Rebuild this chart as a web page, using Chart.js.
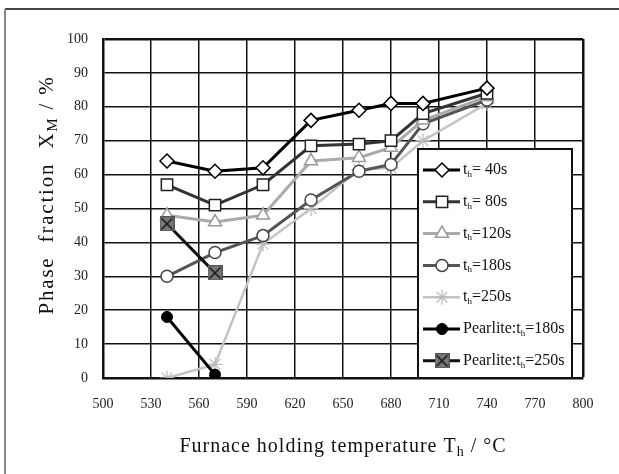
<!DOCTYPE html>
<html>
<head>
<meta charset="utf-8">
<script src="https://cdn.jsdelivr.net/npm/chart.js@4.4.0/dist/chart.umd.min.js"></script>
<style>
  body { margin: 0; background: #fff; }
  #wrap { width: 619px; height: 474px; position: relative; }
</style>
</head>
<body>
<div id="wrap"><canvas id="grafico" width="619" height="474"></canvas></div>
<script>
// temperatures (°C) and phase fractions (%)
const temps = [540, 570, 600, 630, 660, 680, 700, 740];
const t40 = [64, 61, 62, 76, 79, 81, 81, 85.5];
const t80 = [57, 51, 57, 68.5, 69, 70, 78, 84];
const t120 = [48, 46, 48, 64, 65, 68, 76, 83];
const t180 = [30, 37, 42, 52.5, 61, 63, 75, 82];
const t250 = [0, 4, 39.5, 50, 61.5, 62, 70, 81];
const pearliteTemps = [540, 570];
const pearlite180 = [18, 1];
const pearlite250 = [45.5, 31];

const xTicks = [500, 530, 560, 590, 620, 650, 680, 710, 740, 770, 800];
const yTicks = [0, 10, 20, 30, 40, 50, 60, 70, 80, 90, 100];

const legendNames = [
    ['= 40s', ''], ['= 80s', ''], ['=120s', ''], ['=180s', ''], ['=250s', ''],
    ['=180s', 'Pearlite:'], ['=250s', 'Pearlite:']
];

function pts(xs, ys) {
    return xs.map((x, i) => ({ x: x, y: ys[i] }));
}

// grey square with a cross for pearlite 250s
let xMark = document.createElement('canvas');
xMark.width = 15; xMark.height = 15;
let mc = xMark.getContext('2d');
mc.fillStyle = '#7a7a7a';
mc.fillRect(0, 0, 15, 15);
mc.strokeStyle = '#555';
mc.lineWidth = 1;
mc.strokeRect(0.5, 0.5, 14, 14);
mc.strokeStyle = '#111';
mc.lineWidth = 1.5;
mc.beginPath();
mc.moveTo(2, 2); mc.lineTo(13, 13);
mc.moveTo(13, 2); mc.lineTo(2, 13);
mc.stroke();

const serif = 'Liberation Serif';

function partsWidth(ctx, parts, size, subSize) {
    let w = 0;
    parts.forEach(p => {
        ctx.font = (p.sub ? subSize : size) + 'px "' + serif + '"';
        w += ctx.measureText(p.t).width;
    });
    return w;
}

function writeParts(ctx, parts, x, y, size, subSize, center) {
    let total = partsWidth(ctx, parts, size, subSize);
    let cx = center ? x - total / 2 : x;
    parts.forEach(p => {
        ctx.font = (p.sub ? subSize : size) + 'px "' + serif + '"';
        ctx.fillText(p.t, cx, p.sub ? y + size * 0.28 : y);
        cx += ctx.measureText(p.t).width;
    });
}

const extras = {
    id: 'extras',
    beforeDraw(chart) {
        let ctx = chart.ctx;
        ctx.save();
        ctx.fillStyle = '#fff';
        ctx.fillRect(0, 0, chart.width, chart.height);
        ctx.lineWidth = 2;
        ctx.strokeStyle = '#444';
        ctx.beginPath();
        ctx.moveTo(5, 9); ctx.lineTo(chart.width, 9);
        ctx.stroke();
        ctx.strokeStyle = '#888';
        ctx.beginPath();
        ctx.moveTo(5, 9); ctx.lineTo(5, chart.height);
        ctx.stroke();
        ctx.restore();
    },
    afterDraw(chart) {
        let ctx = chart.ctx;
        let area = chart.chartArea;
        ctx.save();
        ctx.fillStyle = '#111';
        ctx.textBaseline = 'middle';
        ctx.textAlign = 'left';
        if ('letterSpacing' in ctx) ctx.letterSpacing = '1px';

        // x title
        writeParts(ctx, [
            { t: 'Furnace holding temperature T' },
            { t: 'h', sub: true },
            { t: ' / °C' }
        ], (area.left + area.right) / 2, 447, 20, 14, true);

        // y title
        if ('letterSpacing' in ctx) ctx.letterSpacing = '1.8px';
        ctx.translate(47, 195);
        ctx.rotate(-Math.PI / 2);
        writeParts(ctx, [
            { t: 'Phase  fraction  X' },
            { t: 'M', sub: true },
            { t: ' / %' }
        ], 0, 0, 21, 15, true);
        ctx.restore();

        // legend box
        ctx.save();
        let bx = 418, by = 149, bw = 154, bh = area.bottom - 149;
        ctx.fillStyle = '#fff';
        ctx.fillRect(bx, by, bw, bh);
        ctx.strokeStyle = '#111';
        ctx.lineWidth = 2;
        ctx.strokeRect(bx, by, bw, bh);
        ctx.textBaseline = 'middle';
        chart.data.datasets.forEach((ds, i) => {
            let y = 170 + i * 31.8;
            ctx.strokeStyle = ds.borderColor;
            ctx.lineWidth = ds.borderWidth;
            ctx.beginPath();
            ctx.moveTo(423, y); ctx.lineTo(460, y);
            ctx.stroke();
            ctx.fillStyle = ds.pointBackgroundColor;
            ctx.strokeStyle = ds.pointBorderColor;
            ctx.lineWidth = ds.pointBorderWidth;
            Chart.helpers.drawPoint(ctx, {
                pointStyle: ds.pointStyle,
                radius: ds.pointRadius,
                rotation: 0,
                borderWidth: ds.pointBorderWidth
            }, 442, y);
            ctx.fillStyle = '#111';
            let name = legendNames[i];
            writeParts(ctx, [
                { t: name[1] + 't' },
                { t: 'h', sub: true },
                { t: name[0] }
            ], 463, y, 16, 9, false);
        });
        ctx.restore();
    }
};

let grafico = document.getElementById('grafico').getContext('2d');

let chart = new Chart(grafico, {
    type: 'line',
    data: {
        datasets: [{
                data: pts(temps, t40),
                borderColor: '#000',
                borderWidth: 3,
                pointStyle: 'rectRot',
                pointRadius: 7,
                pointBackgroundColor: '#fff',
                pointBorderColor: '#000',
                pointBorderWidth: 1.5,
                order: 2
            },
            {
                data: pts(temps, t80),
                borderColor: '#333',
                borderWidth: 3,
                pointStyle: 'rect',
                pointRadius: 8,
                pointBackgroundColor: '#fff',
                pointBorderColor: '#222',
                pointBorderWidth: 1.5,
                order: 3
            },
            {
                data: pts(temps, t120),
                borderColor: '#aaa',
                borderWidth: 3,
                pointStyle: 'triangle',
                pointRadius: 7.5,
                pointBackgroundColor: '#fff',
                pointBorderColor: '#999',
                pointBorderWidth: 1.5,
                order: 4
            },
            {
                data: pts(temps, t180),
                borderColor: '#555',
                borderWidth: 3,
                pointStyle: 'circle',
                pointRadius: 6,
                pointBackgroundColor: '#fff',
                pointBorderColor: '#444',
                pointBorderWidth: 1.5,
                order: 5
            },
            {
                data: pts(temps, t250),
                borderColor: '#c4c4c4',
                borderWidth: 2.5,
                pointStyle: 'star',
                pointRadius: 7.5,
                pointBackgroundColor: '#fff',
                pointBorderColor: '#bbb',
                pointBorderWidth: 1.2,
                order: 6
            },
            {
                data: pts(pearliteTemps, pearlite180),
                borderColor: '#000',
                borderWidth: 3,
                pointStyle: 'circle',
                pointRadius: 5.5,
                pointBackgroundColor: '#000',
                pointBorderColor: '#000',
                pointBorderWidth: 1,
                order: 0
            },
            {
                data: pts(pearliteTemps, pearlite250),
                borderColor: '#111',
                borderWidth: 3,
                pointStyle: xMark,
                pointRadius: 7.5,
                pointBackgroundColor: '#777',
                pointBorderColor: '#333',
                pointBorderWidth: 1,
                order: 1
            }
        ]
    },
    options: {
        responsive: false,
        animation: false,
        layout: { padding: { top: 39, right: 36, left: 0, bottom: 0 } },
        plugins: {
            legend: { display: false },
            tooltip: { enabled: false }
        },
        scales: {
            x: {
                type: 'linear',
                min: 500,
                max: 800,
                afterBuildTicks: s => { s.ticks = xTicks.map(v => ({ value: v })); },
                afterFit: s => { s.height = 96; },
                ticks: {
                    color: '#222',
                    padding: 18,
                    maxRotation: 0,
                    font: { family: serif, size: 14 }
                },
                grid: {
                    color: '#111',
                    lineWidth: c => (c.tick && c.tick.value === 800 ? 2.5 : 1.5),
                    drawTicks: false
                },
                border: { color: '#111', width: 2.5 }
            },
            y: {
                min: 0,
                max: 100,
                afterBuildTicks: s => { s.ticks = yTicks.map(v => ({ value: v })); },
                afterFit: s => { s.width = 103; },
                ticks: {
                    color: '#222',
                    padding: 15,
                    font: { family: serif, size: 14 }
                },
                grid: {
                    color: '#111',
                    lineWidth: c => (c.tick && c.tick.value === 100 ? 2.5 : 1.5),
                    drawTicks: false
                },
                border: { color: '#111', width: 2.5 }
            }
        }
    },
    plugins: [extras]
});
</script>
</body>
</html>
